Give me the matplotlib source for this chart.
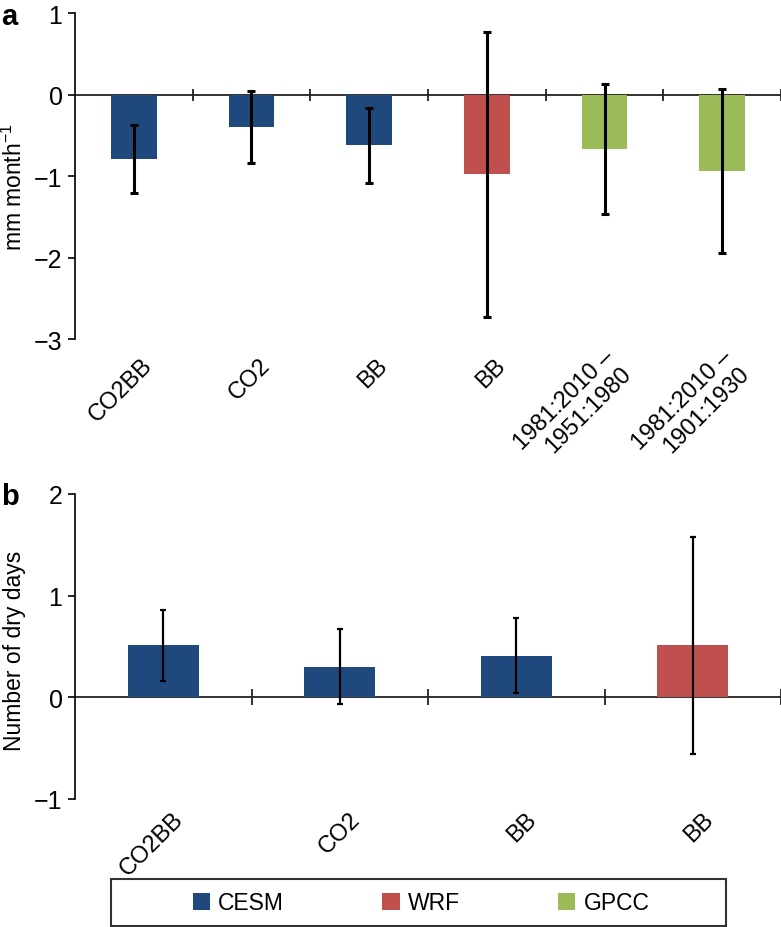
import numpy as np
import matplotlib
matplotlib.use("Agg")
import matplotlib.pyplot as plt
from matplotlib.patches import Patch, Rectangle
from matplotlib.transforms import ScaledTranslation
from matplotlib import font_manager

plt.rcParams['font.family'] = ['Liberation Sans', 'DejaVu Sans']
narrow = [f.name for f in font_manager.fontManager.ttflist if 'Narrow' in f.name]
tick_family = ['Liberation Sans Narrow', 'Liberation Sans'] if narrow else ['Liberation Sans']

###############################################
# Data

# panel a: precipitation change (mm month-1)
labels_a = ["CO2BB", "CO2", "BB", "BB", "1981:2010 \u2013\n1951:1980", "1981:2010 \u2013\n1901:1930"]
source_a = ["CESM", "CESM", "CESM", "WRF", "GPCC", "GPCC"]
values_a = [-0.79, -0.40, -0.62, -0.98, -0.67, -0.94]
errors_a = [0.42, 0.44, 0.46, 1.75, 0.80, 1.01]

# panel b: change in number of dry days
labels_b = ["CO2BB", "CO2", "BB", "BB"]
source_b = ["CESM", "CESM", "CESM", "WRF"]
values_b = [0.51, 0.30, 0.41, 0.51]
errors_b = [0.35, 0.37, 0.37, 1.07]

colors = {"CESM": "#1F497D", "WRF": "#C0504D", "GPCC": "#9BBB59"}


def draw_panel(ax, labels, source, values, errors, ylim, yticks, ylabel,
               width, ecap, elw, sep_ms, lab_pad, lab_dx) :
    x = np.arange(len(values))
    ax.bar(x, values, width, color=[colors[s] for s in source], zorder=2)
    ax.errorbar(x, values, yerr=errors, fmt='none', ecolor='black',
                elinewidth=elw, capsize=ecap, capthick=elw, zorder=3)

    # zero line with separators between categories
    ax.axhline(0, color='#222222', lw=1.3, zorder=1)
    ax.plot(np.arange(1, len(values) + 1) - 0.5, np.zeros(len(values)),
            ls='none', marker='|', ms=sep_ms, mew=1.3, color='#222222', zorder=1)

    ax.set_xlim(-0.5, len(values) - 0.5)
    ax.set_ylim(*ylim)
    ax.set_yticks(yticks)
    ax.set_yticklabels([("\u2212%d" % -t) if t < 0 else "%d" % t for t in yticks],
                       family=tick_family, fontsize=18)
    ax.tick_params(axis='y', direction='out', length=5, width=1.2, pad=4)

    # rotated category labels, anchored on the middle of their right end
    ax.set_xticks(x)
    ax.set_xticklabels(labels, rotation=45, ha='right', va='center',
                       rotation_mode='anchor', fontsize=17, multialignment='right',
                       linespacing=1.1)
    ax.tick_params(axis='x', length=0, pad=lab_pad)
    shift = ScaledTranslation(lab_dx / 100, 0, ax.figure.dpi_scale_trans)
    for lab in ax.get_xticklabels() :
        lab.set_transform(lab.get_transform() + shift)

    for s in ['top', 'right', 'bottom'] : ax.spines[s].set_visible(False)
    ax.spines['left'].set_linewidth(1.2)
    ax.set_ylabel(ylabel, fontsize=16.5)


fig = plt.figure(figsize=(7.81, 9.28), dpi=100)

ax_a = fig.add_axes([75 / 781, 1 - 340 / 928, 706 / 781, 326 / 928])
draw_panel(ax_a, labels_a, source_a, values_a, errors_a, (-3, 1), [-3, -2, -1, 0, 1],
           "mm month$^{\\mathregular{-1}}$", 0.39, 3, 2.2, 9, 16, 15)
ax_a.yaxis.set_label_coords(-0.068, 0.47)

ax_b = fig.add_axes([75 / 781, 1 - 800 / 928, 706 / 781, 305 / 928])
draw_panel(ax_b, labels_b, source_b, values_b, errors_b, (-1, 2), [-1, 0, 1, 2],
           "Number of dry days", 0.40, 2, 1.6, 11, 12, 17)
ax_b.yaxis.set_label_coords(-0.07, 0.49)

fig.text(1 / 781, 1 - 3 / 928, "a", fontsize=21, fontweight='bold', va='top')
fig.text(1 / 781, 1 - 483 / 928, "b", fontsize=21, fontweight='bold', va='top')

# legend in an open box at the bottom
fig.patches.append(Rectangle((111 / 781, 1 - 927 / 928), 615 / 781, 47 / 928,
                             transform=fig.transFigure, fill=False,
                             edgecolor='#333333', lw=1.5))
handles = [Patch(facecolor=colors[k], label=k) for k in colors]
fig.legend(handles=handles, ncol=3, loc='center', frameon=False,
           bbox_to_anchor=(421 / 781, 1 - 904 / 928), fontsize=16.5,
           handlelength=0.75, handleheight=0.75, handletextpad=0.35,
           columnspacing=4.3)

fig.savefig("out.png", dpi=100)
